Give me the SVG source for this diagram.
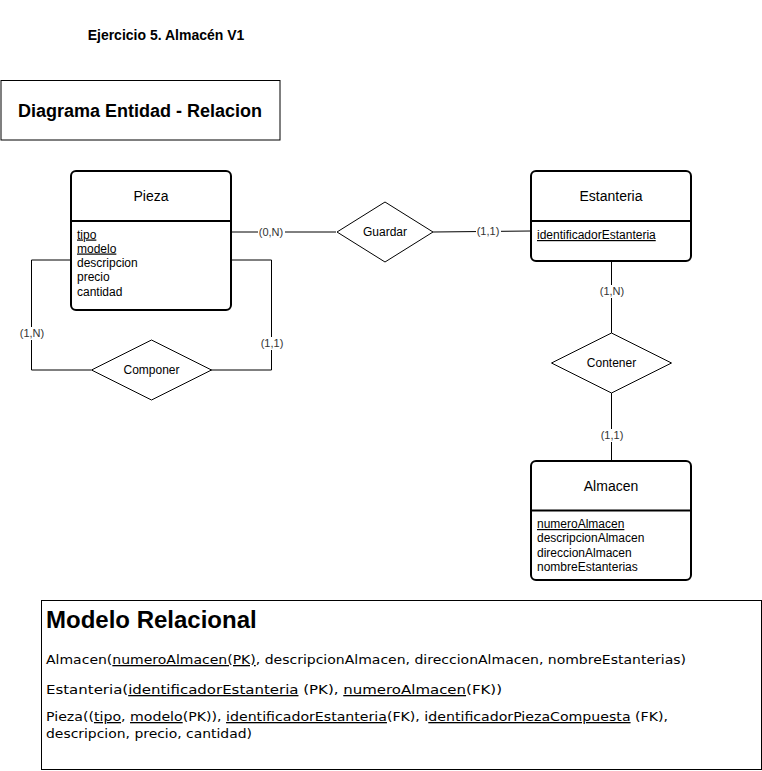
<svg xmlns="http://www.w3.org/2000/svg" width="762" height="771" viewBox="0 0 762 771">
<style>
.ent{fill:#fff;stroke:#000;stroke-width:2}
.div{stroke:#000;stroke-width:2}
.rel{fill:#fff;stroke:#000;stroke-width:1}
.ln{fill:none;stroke:#000;stroke-width:1}
.t{font-family:"Liberation Sans",Arial,sans-serif;fill:#000}
.et{font-size:14px;text-anchor:middle}
.at{font-size:12px}
.rt{font-size:12px;text-anchor:middle}
.lb{font-size:11px;text-anchor:middle;fill:#333}
.u{text-decoration:underline}
.rm{font-family:"DejaVu Sans",Verdana,sans-serif;font-size:13px;fill:#000}
</style>
<rect width="762" height="771" fill="#fff"/>
<g id="title">
<text class="t" x="166" y="40" font-size="14" font-weight="bold" text-anchor="middle">Ejercicio 5. Almacén V1</text>
</g>
<g id="header">
<rect x="1" y="80.5" width="279" height="59.5" fill="#fff" stroke="#000"/>
<text class="t" x="140" y="116.5" font-size="18" font-weight="bold" text-anchor="middle">Diagrama Entidad - Relacion</text>
</g>
<g id="connectors">
<line class="ln" x1="231" y1="232" x2="336" y2="232"/>
<line class="ln" x1="433" y1="232" x2="531" y2="231"/>
<polyline class="ln" points="71,260 31.5,260 31.5,370 91,370"/>
<polyline class="ln" points="231,260 271.5,260 271.5,370 211,370"/>
<line class="ln" x1="611.5" y1="261" x2="611.5" y2="333"/>
<line class="ln" x1="611.5" y1="393" x2="611.5" y2="460"/>
<rect x="258" y="226" width="27" height="13" fill="#fff"/>
<text class="t lb" x="271" y="236">(0,N)</text>
<rect x="476" y="225" width="25" height="13" fill="#fff"/>
<text class="t lb" x="488" y="235">(1,1)</text>
<rect x="18" y="327" width="27" height="13" fill="#fff"/>
<text class="t lb" x="32" y="337">(1,N)</text>
<rect x="259" y="337" width="25" height="13" fill="#fff"/>
<text class="t lb" x="272" y="347">(1,1)</text>
<rect x="598" y="285" width="27" height="13" fill="#fff"/>
<text class="t lb" x="612" y="295">(1,N)</text>
<rect x="599" y="429" width="25" height="13" fill="#fff"/>
<text class="t lb" x="612" y="439">(1,1)</text>
</g>
<g id="Pieza">
<rect class="ent" x="71" y="171" width="160" height="139" rx="5"/>
<line class="div" x1="71" y1="221" x2="231" y2="221"/>
<text class="t et" x="151" y="201">Pieza</text>
<text class="t at u" x="77" y="238.5">tipo</text>
<text class="t at u" x="77" y="252.5">modelo</text>
<text class="t at" x="77" y="267">descripcion</text>
<text class="t at" x="77" y="281">precio</text>
<text class="t at" x="77" y="295.5">cantidad</text>
</g>
<g id="Estanteria">
<rect class="ent" x="531" y="171" width="160" height="90" rx="5"/>
<line class="div" x1="531" y1="221" x2="691" y2="221"/>
<text class="t et" x="611" y="201">Estanteria</text>
<text class="t at u" x="537" y="239">identificadorEstanteria</text>
</g>
<g id="Almacen">
<rect class="ent" x="531" y="461" width="160" height="119" rx="5"/>
<line class="div" x1="531" y1="510.5" x2="691" y2="510.5"/>
<text class="t et" x="611" y="490.5">Almacen</text>
<text class="t at u" x="537" y="528">numeroAlmacen</text>
<text class="t at" x="537" y="542">descripcionAlmacen</text>
<text class="t at" x="537" y="556.5">direccionAlmacen</text>
<text class="t at" x="537" y="570.5">nombreEstanterias</text>
</g>
<g id="Guardar">
<polygon class="rel" points="385,202 433,232 385,262 337,232"/>
<text class="t rt" x="385" y="236">Guardar</text>
</g>
<g id="Componer">
<polygon class="rel" points="151.5,340 211.5,370 151.5,400 91.5,370"/>
<text class="t rt" x="151.5" y="374">Componer</text>
</g>
<g id="Contener">
<polygon class="rel" points="611.5,333 671.5,363 611.5,393 551.5,363"/>
<text class="t rt" x="611.5" y="367">Contener</text>
</g>
<g id="modelo">
<rect x="41.5" y="600.5" width="720" height="169" fill="#fff" stroke="#000"/>
<text class="t" x="46" y="628" font-size="24" font-weight="bold">Modelo Relacional</text>
<text class="rm" x="46" y="664" textLength="640" lengthAdjust="spacingAndGlyphs">Almacen(<tspan class="u">numeroAlmacen(PK)</tspan>, descripcionAlmacen, direccionAlmacen, nombreEstanterias)</text>
<text class="rm" x="46" y="694" textLength="456" lengthAdjust="spacingAndGlyphs">Estanteria(<tspan class="u">identificadorEstanteria</tspan> (PK), <tspan class="u">numeroAlmacen</tspan>(FK))</text>
<text class="rm" x="46" y="721" textLength="622" lengthAdjust="spacingAndGlyphs">Pieza((<tspan class="u">tipo</tspan>, <tspan class="u">modelo</tspan>(PK)), <tspan class="u">identificadorEstanteria</tspan>(FK), i<tspan class="u">dentificadorPiezaCompuesta</tspan> (FK),</text>
<text class="rm" x="46" y="738" textLength="206" lengthAdjust="spacingAndGlyphs">descripcion, precio, cantidad)</text>
</g>
</svg>
